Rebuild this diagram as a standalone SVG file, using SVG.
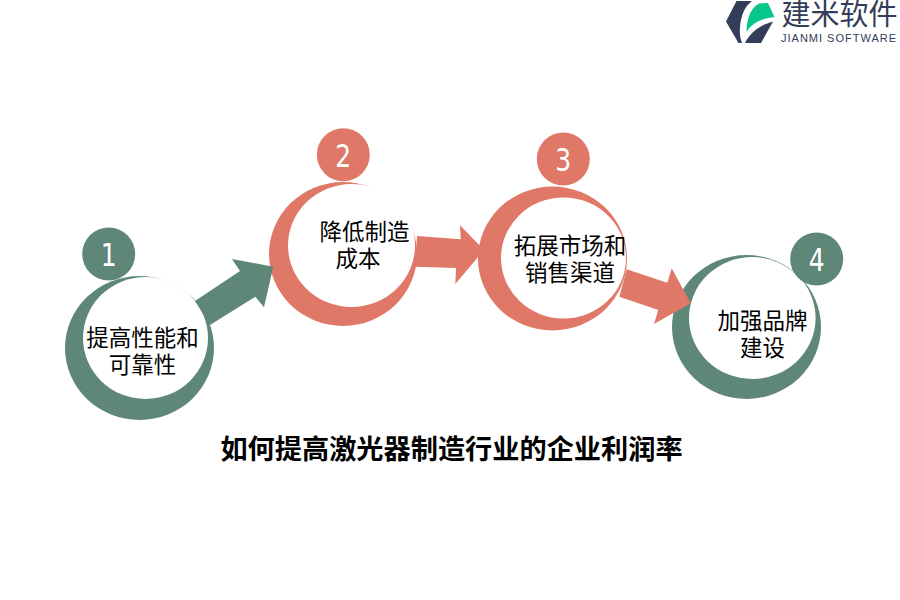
<svg xmlns="http://www.w3.org/2000/svg" width="900" height="600" viewBox="0 0 900 600">
<style>
.g{fill:#5f8777}.r{fill:#e07868}.w{fill:#fff}
.l{font-family:"Noto Sans CJK SC","Noto Sans",sans-serif;font-size:22.5px;fill:#000;text-anchor:middle}
.n{font-family:"DejaVu Sans",sans-serif;font-size:32px;fill:#fff;text-anchor:middle}
.d{fill:#333c58}
</style>
<rect width="900" height="600" fill="#fff"/>
<g id="node-1">
<ellipse class="g" cx="139.5" cy="348" rx="74.5" ry="72"/>
<ellipse class="w" cx="145.5" cy="338" rx="62.5" ry="61"/>
<circle class="g" cx="108.7" cy="254" r="26.5"/>
<text class="n" transform="translate(108.7 265.500) scale(.78 1)">1</text>
<text class="l"><tspan x="142.500" y="346">提高性能和</tspan><tspan x="142.500" y="373">可靠性</tspan></text>
</g>
<g id="node-2">
<ellipse class="r" cx="343" cy="254" rx="74" ry="72"/>
<ellipse class="w" cx="351.5" cy="245.5" rx="63.5" ry="61.5"/>
<circle class="r" cx="343.3" cy="154.7" r="26.5"/>
<text class="n" transform="translate(343.3 166.500) scale(.78 1)">2</text>
<text class="l"><tspan x="364.500" y="239.500">降低制造</tspan><tspan x="358" y="266.500">成本</tspan></text>
</g>
<g id="node-3">
<ellipse class="r" cx="552.5" cy="258.5" rx="74.5" ry="72"/>
<ellipse class="w" cx="563.5" cy="258" rx="62.5" ry="60.5"/>
<circle class="r" cx="563.3" cy="159" r="26.5"/>
<text class="n" transform="translate(563.3 170.500) scale(.78 1)">3</text>
<text class="l"><tspan x="570" y="253.500">拓展市场和</tspan><tspan x="570" y="280.500">销售渠道</tspan></text>
</g>
<g id="node-4">
<ellipse class="g" cx="746.5" cy="327" rx="74.5" ry="72"/>
<ellipse class="w" cx="752.3" cy="318" rx="63.3" ry="61"/>
<circle class="g" cx="816.7" cy="259" r="26.5"/>
<text class="n" transform="translate(816.7 270.500) scale(.78 1)">4</text>
<text class="l"><tspan x="762.500" y="328.500">加强品牌</tspan><tspan x="762.500" y="355.500">建设</tspan></text>
</g>
<g id="connectors">
<polygon class="g" points="195,301 240,271 232,259 273.3,266.7 264,307.3 255.3,296.7 210,325"/>
<polygon class="r" points="417,236 460.7,239.3 460,225.3 484,250 455.3,284 456,268 415,266.7"/>
<polygon class="r" points="626.7,269.3 667.3,282.7 671.7,268.3 690.7,303.3 654,324 658.3,310 619.3,296.7"/>
</g>
<text x="451.5" y="458.500" font-family="'Noto Sans CJK SC',sans-serif" font-size="27.2" font-weight="700" fill="#000" text-anchor="middle">如何提高激光器制造行业的企业利润率</text>
<g id="logo">
<path class="d" d="M736.500 1H752C744 7 741 16 740 27C739.500 33 740 38 742 43H738.500L726 21.500Z"/>
<path d="M746.500 32C747 20 749.500 9 759 3.500L768 3L774.500 17C764 18 753 22 746.500 32Z" fill="#08c68a"/>
<path class="d" d="M745 43C750 33 760 25 773 21.500L761 43Z"/>
<text x="781.500" y="25" font-family="'Noto Sans CJK SC',sans-serif" font-size="29" fill="#333c58">建米软件</text>
<text x="781" y="42" font-family="'Liberation Sans',sans-serif" font-size="11" letter-spacing="1" fill="#333c58">JIANMI SOFTWARE</text>
</g>
</svg>
